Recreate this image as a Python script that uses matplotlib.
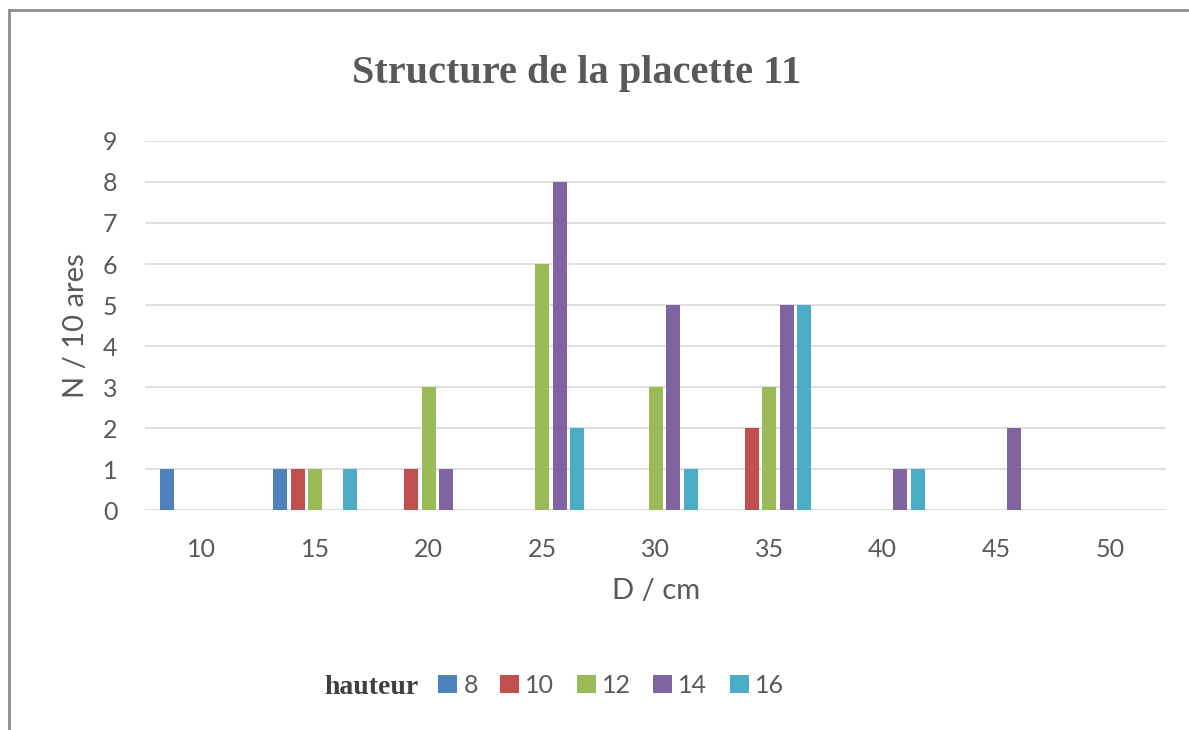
import numpy as np
import matplotlib.pyplot as plt
from matplotlib.lines import Line2D

# classes de diametre et hauteurs
diametres = ['10', '15', '20', '25', '30', '35', '40', '45', '50']
hauteurs = ['8', '10', '12', '14', '16']
h8 = [1, 1, 0, 0, 0, 0, 0, 0, 0]
h10 = [0, 1, 1, 0, 0, 2, 0, 0, 0]
h12 = [0, 1, 3, 6, 3, 3, 0, 0, 0]
h14 = [0, 0, 1, 8, 5, 5, 1, 2, 0]
h16 = [0, 1, 0, 2, 1, 5, 1, 0, 0]
series = [h8, h10, h12, h14, h16]
couleurs = ['#4F81BD', '#C0504D', '#9BBB59', '#8064A2', '#4BACC6']

plt.rcParams['font.family'] = ['Lato', 'DejaVu Sans']
gris = '#595959'

fig = plt.figure(figsize=(11.89, 7.3), dpi=100)
ax = fig.add_axes([0.122, 0.301, 0.859, 0.506])

x = np.arange(len(diametres))
pas = 0.154
larg = 0.123
barres = []
for i, (vals, c) in enumerate(zip(series, couleurs)):
    b = ax.bar(x + (i - 2) * pas, vals, width=larg, color=c, label=hauteurs[i], zorder=3)
    barres.append(b)

ax.set_xlim(-0.5, len(diametres) - 0.5)
ax.set_ylim(0, 9)
ax.set_yticks(range(10))
ax.set_xticks(x)
ax.set_xticklabels(diametres)
ax.tick_params(length=0, labelsize=18, colors=gris)
ax.tick_params(axis='x', pad=20)
ax.tick_params(axis='y', pad=20)
ax.grid(axis='y', color='#d9d9d9', linewidth=1.2, zorder=0)
for s in ax.spines.values():
    s.set_visible(False)

ax.set_xlabel('D / cm', fontsize=21, color=gris, labelpad=12)
ax.set_ylabel('N / 10 ares', fontsize=21, color=gris, labelpad=10)

fig.text(0.485, 0.899, 'Structure de la placette 11', ha='center', va='center',
         fontsize=29, fontweight='bold', color=gris, family='Liberation Serif')

fig.text(0.273, 0.058, 'hauteur', ha='left', va='center', fontsize=20,
         fontweight='bold', color='#404040', family='Liberation Serif')
fig.legend(handles=barres, loc='center', bbox_to_anchor=(0.514, 0.061), ncol=5,
           frameon=False, fontsize=18, labelcolor=gris, handlelength=0.75,
           handleheight=0.75, handletextpad=0.25, columnspacing=0.9)

# cadre du graphique (bords gauche et haut)
fig.add_artist(Line2D([0.0076, 0.0076], [0.0, 0.986], color='#8c8c8c', linewidth=2,
                      transform=fig.transFigure))
fig.add_artist(Line2D([0.0076, 1.0], [0.986, 0.986], color='#8c8c8c', linewidth=2,
                      transform=fig.transFigure))

fig.savefig('out.png', dpi=100)
